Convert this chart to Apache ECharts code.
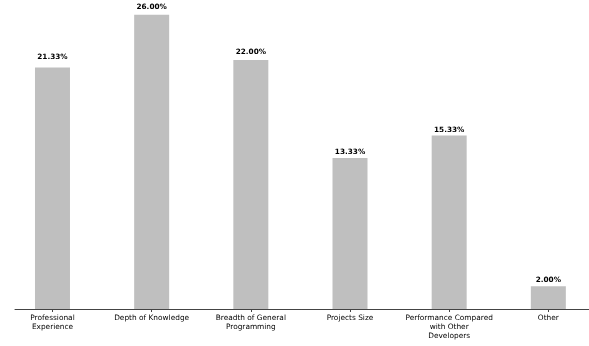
<!DOCTYPE html>
<html>
<head>
<meta charset="utf-8">
<script src="https://cdn.jsdelivr.net/npm/echarts@6/dist/echarts.min.js"></script>
<style>
html,body{margin:0;padding:0;background:#fff;}
#c{width:589px;height:346px;}
</style>
</head>
<body>
<div id="c"></div>
<script>
const categories = [
  "Professional\nExperience",
  "Depth of Knowledge",
  "Breadth of General\nProgramming",
  "Projects Size",
  "Performance Compared\nwith Other\nDevelopers",
  "Other"
];
const values = [21.33, 26.00, 22.00, 13.33, 15.33, 2.00];
const labelGaps = [7, 4, 4, 3, 2, 3];

const positions = categories.map((_, i) => i);
const chart = echarts.init(document.getElementById('c'), null, {renderer: 'canvas'});
chart.setOption({
  animation: false,
  grid: {left: 15, right: 0, top: 0, bottom: 37, containLabel: false},
  xAxis: {
    type: 'value',
    min: -0.378,
    max: 5.41,
    splitLine: {show: false},
    axisLine: {show: true, onZero: false, lineStyle: {color: '#444', width: 1}},
    axisTick: {show: true, length: 3, customValues: positions, lineStyle: {color: '#444'}},
    axisLabel: {
      customValues: positions,
      formatter: v => categories[Math.round(v)],
      fontFamily: 'DejaVu Sans',
      fontSize: 7.4,
      lineHeight: 9.4,
      color: '#000',
      margin: 4,
      align: 'center'
    }
  },
  yAxis: {
    type: 'value', min: 0, max: 27.3, show: false
  },
  series: [{
    type: 'bar',
    barWidth: 35,
    itemStyle: {color: '#bfbfbf'},
    data: values.map((v, i) => ({
      value: [positions[i], v],
      label: {distance: labelGaps[i]}
    })),
    label: {
      show: true,
      position: 'top',
      formatter: p => p.value[1].toFixed(2) + '%',
      fontFamily: 'DejaVu Sans',
      fontWeight: 'bold',
      fontSize: 7.3,
      color: '#000'
    }
  }]
});
</script>
</body>
</html>
